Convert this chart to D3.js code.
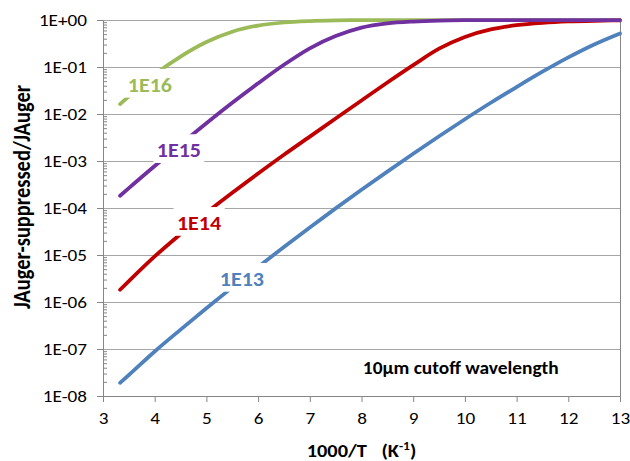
<!DOCTYPE html>
<html>
<head>
<meta charset="utf-8">
<script src="https://cdn.jsdelivr.net/npm/d3@7"></script>
<style>
  html, body { margin: 0; padding: 0; background: #fff; }
  svg { display: block; }
</style>
</head>
<body>
<svg id="chart" width="630" height="461"></svg>
<script>
// x values (1000/T)
const xValues = [3.33, 3.5, 4, 4.5, 5, 5.5, 6, 6.5, 7, 7.5, 8, 8.5, 9, 9.5, 10, 10.5, 11, 11.5, 12, 12.5, 13]

// ratio JAuger-suppressed / JAuger, one array per doping level
const doping1E16 = [0.01622, 0.02379, 0.0694, 0.1666, 0.340, 0.5645, 0.7613, 0.8845, 0.9475, 0.9786, 0.9922, 0.9991, 1, 1, 1, 1, 1, 1, 1, 1, 1]
const doping1E15 = [1.82e-4, 2.65e-4, 7.82e-4, 2.254e-3, 6.35e-3, 1.73e-2, 4.50e-2, 0.1117, 0.250, 0.455, 0.689, 0.847, 0.929, 0.973, 0.991, 0.9966, 0.9989, 1, 1, 1, 1]
const doping1E14 = [1.82e-6, 2.78e-6, 9.31e-6, 2.78e-5, 7.93e-5, 2.11e-4, 5.42e-4, 1.36e-3, 3.30e-3, 8.02e-3, 1.945e-2, 4.67e-2, 0.1094, 0.2449, 0.4355, 0.6295, 0.7745, 0.869, 0.9311, 0.9638, 0.9806]
const doping1E13 = [1.905e-8, 2.80e-8, 8.85e-8, 2.58e-7, 7.36e-7, 2.05e-6, 5.58e-6, 1.486e-5, 3.86e-5, 9.82e-5, 2.44e-4, 5.95e-4, 1.427e-3, 3.37e-3, 7.75e-3, 1.736e-2, 3.75e-2, 7.93e-2, 0.160, 0.3017, 0.518]

// series names and where their labels sit (data coordinates)
const seriesNames = ['1E13', '1E14', '1E16', '1E15'] // drawing order
const seriesValues = [doping1E13, doping1E14, doping1E16, doping1E15]
const labelX = [5.26, 4.43, 3.48, 4.04]
const labelY = [2.19e-6, 3.39e-5, 0.0295, 1.2e-3]

// ticks
const xTicks = [3, 4, 5, 6, 7, 8, 9, 10, 11, 12, 13]
const yTicks = [1e-8, 1e-7, 1e-6, 1e-5, 1e-4, 1e-3, 1e-2, 1e-1, 1]
const yTickLabels = ['1E-08', '1E-07', '1E-06', '1E-05', '1E-04', '1E-03', '1E-02', '1E-01', '1E+00']

const colors = {
  '1E16': '#9bbb59',
  '1E15': '#7030a0',
  '1E14': '#c00000',
  '1E13': '#4f81bd',
}

const width = 630
const height = 461
const margin = { top: 20, right: 10, bottom: 65, left: 103 }
const plotWidth = width - margin.left - margin.right
const plotHeight = height - margin.top - margin.bottom
const font = 'Calibri, Carlito, Lato, sans-serif'
const stretch = 1.13 // the original picture is a bit wider than tall
const axisColor = '#868686'
const gridColor = '#a6a6a6'

const svg = d3.select('#chart')

svg.append('rect')
  .attr('width', width)
  .attr('height', height)
  .attr('fill', '#fff')

const xScale = d3.scaleLinear().domain([3, 13]).range([0, plotWidth])
const yScale = d3.scaleLog().domain([1e-8, 1]).range([plotHeight, 0])

const g = svg.append('g')
  .attr('transform', 'translate(' + margin.left + ',' + margin.top + ')')

// horizontal gridlines
g.append('g')
  .attr('class', 'grid')
  .call(d3.axisLeft(yScale).tickValues(yTicks).tickSize(-plotWidth).tickFormat(''))
  .call((s) => s.select('.domain').remove())
  .selectAll('line')
  .attr('stroke', gridColor)
  .attr('stroke-width', 1)

// right border
g.append('line')
  .attr('x1', plotWidth + 0.5)
  .attr('x2', plotWidth + 0.5)
  .attr('y1', 0)
  .attr('y2', plotHeight)
  .attr('stroke', axisColor)

// minor ticks on the log axis (inside)
const minorTicks = []
yTicks.slice(0, -1).forEach((d) => {
  for (let k = 2; k <= 9; k++) minorTicks.push(d * k)
})
g.append('g')
  .call(d3.axisLeft(yScale).tickValues(minorTicks).tickSize(-4).tickFormat(''))
  .call((s) => s.select('.domain').remove())
  .selectAll('line')
  .attr('stroke', axisColor)

// y axis
const yAxis = g.append('g')
  .call(d3.axisLeft(yScale).tickValues(yTicks).tickSize(6).tickSizeOuter(0)
    .tickFormat((d, i) => yTickLabels[i]))
yAxis.select('.domain').attr('stroke', axisColor)
yAxis.selectAll('.tick line').attr('stroke', axisColor)
yAxis.selectAll('.tick text')
  .attr('x', -16 / stretch)
  .attr('transform', 'scale(' + stretch + ',1)')
  .attr('font-family', font)
  .attr('font-size', 17)
  .attr('fill', '#000')

// x axis
const xAxis = g.append('g')
  .attr('transform', 'translate(0,' + plotHeight + ')')
  .call(d3.axisBottom(xScale).tickValues(xTicks).tickSize(6).tickSizeOuter(0))
xAxis.select('.domain').attr('stroke', axisColor)
xAxis.selectAll('.tick line').attr('stroke', axisColor)
xAxis.selectAll('.tick text')
  .attr('y', 16)
  .attr('transform', 'scale(' + stretch + ',1)')
  .attr('font-family', font)
  .attr('font-size', 17)
  .attr('fill', '#000')

// lines
const line = d3.line()
  .x((d) => xScale(d[0]))
  .y((d) => yScale(d[1]))
  .curve(d3.curveMonotoneX)

seriesNames.forEach((name, i) => {
  g.append('path')
    .datum(xValues.map((x, j) => [x, seriesValues[i][j]]))
    .attr('d', line)
    .attr('fill', 'none')
    .attr('stroke', colors[name])
    .attr('stroke-width', 3.75)
    .attr('stroke-linecap', 'round')
    .attr('stroke-linejoin', 'round')
})

// series labels with white boxes
seriesNames.forEach((name, i) => {
  const lg = g.append('g')
    .attr('transform', 'translate(' + xScale(labelX[i]) + ',' + yScale(labelY[i]) + ') scale(1.1,1)')
  const box = lg.append('rect').attr('fill', '#fff')
  const t = lg.append('text')
    .attr('font-family', font)
    .attr('font-weight', 'bold')
    .attr('font-size', 20)
    .attr('fill', colors[name])
    .text(name)
  const bb = t.node().getBBox()
  box.attr('x', bb.x - 3)
    .attr('y', bb.y - 4)
    .attr('width', bb.width + 6)
    .attr('height', bb.height + 4)
})

// note
g.append('g')
  .attr('transform', 'translate(' + xScale(9.92) + ',' + yScale(3.0e-8) + ') scale(1.11,1)')
  .append('text')
  .attr('text-anchor', 'middle')
  .attr('font-family', font)
  .attr('font-weight', 'bold')
  .attr('font-size', 17.5)
  .text('10µm cutoff wavelength')

// axis titles
const xTitle = svg.append('g')
  .attr('transform', 'translate(' + (margin.left + plotWidth / 2) + ',457) scale(' + stretch + ',1)')
  .append('text')
  .attr('text-anchor', 'middle')
  .attr('font-family', font)
  .attr('font-weight', 'bold')
  .attr('font-size', 18)
xTitle.append('tspan').text('1000/T')
xTitle.append('tspan').attr('dx', 13).text('(K')
xTitle.append('tspan').attr('dy', -7).attr('font-size', 12).text('-1')
xTitle.append('tspan').attr('dy', 7).text(')')

svg.append('text')
  .attr('transform', 'translate(30,197) scale(' + stretch + ',1) rotate(-90)')
  .attr('text-anchor', 'middle')
  .attr('font-family', font)
  .attr('font-weight', 'bold')
  .attr('font-size', 20.5)
  .text('JAuger-suppressed/JAuger')
</script>
</body>
</html>
